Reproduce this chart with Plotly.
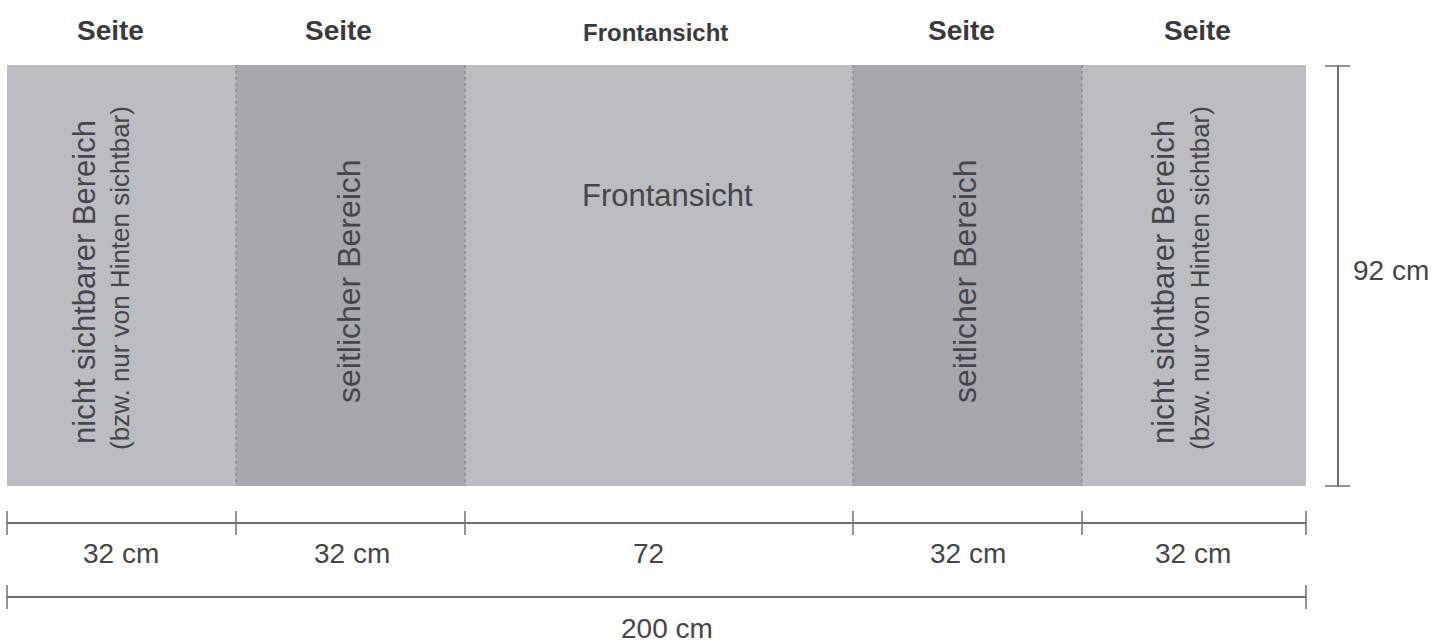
import plotly.graph_objects as go

# ---- data ----
header_labels = ["Seite", "Seite", "Frontansicht", "Seite", "Seite"]
section_main = ["nicht sichtbarer Bereich", "seitlicher Bereich", "Frontansicht",
                "seitlicher Bereich", "nicht sichtbarer Bereich"]
section_sub = ["(bzw. nur von Hinten sichtbar)", "", "", "", "(bzw. nur von Hinten sichtbar)"]
widths_cm = [32, 32, 72, 32, 32]
total_cm = 200
height_cm = 92
width_labels = ["32 cm", "32 cm", "72", "32 cm", "32 cm"]

# ---- drawing layout (diagram is not to scale) ----
W, H = 1448, 642
edges = [7, 236, 465, 853, 1082, 1306]
panel_top, panel_bottom = 65, 486
fills = ["#BCBDC1", "#A7A8AC", "#BCBDC1", "#A7A8AC", "#BCBDC1"]
FONT = "Liberation Sans, Arial, sans-serif"
TXT = "#464648"
LINE = "#707072"

fig = go.Figure()
shapes = []
annotations = []

# panels
for i in range(5):
    shapes.append(dict(type="rect", xref="x", yref="y", x0=edges[i], x1=edges[i + 1],
                       y0=panel_top, y1=panel_bottom, fillcolor=fills[i],
                       line=dict(width=0), layer="below"))
# dotted separators
for e in edges[1:-1]:
    shapes.append(dict(type="line", xref="x", yref="y", x0=e, x1=e, y0=panel_top, y1=panel_bottom,
                       line=dict(color="#7c7c80", width=1, dash="dot")))

# headers
header_x = [110, 338, 655, 961, 1197]
for lbl, hx in zip(header_labels, header_x):
    is_front = lbl == "Frontansicht"
    annotations.append(dict(x=hx, y=32 if is_front else 30, xref="x", yref="y",
                            text="<b>%s</b>" % lbl, showarrow=False,
                            font=dict(family=FONT, size=24 if is_front else 28, color="#3a3a3c"),
                            xanchor="center", yanchor="middle"))

# section texts
main_x = [84, 349, 667, 965, 1163]
sub_x = [120, None, None, None, 1200]
for i in range(5):
    if section_main[i] == "Frontansicht":
        annotations.append(dict(x=main_x[i], y=195, xref="x", yref="y", text=section_main[i],
                                showarrow=False, font=dict(family=FONT, size=31, color=TXT),
                                xanchor="center", yanchor="middle"))
    elif section_main[i] == "seitlicher Bereich":
        annotations.append(dict(x=main_x[i], y=281, xref="x", yref="y", text=section_main[i],
                                textangle=-90, showarrow=False,
                                font=dict(family=FONT, size=32, color=TXT),
                                xanchor="center", yanchor="middle"))
    else:
        annotations.append(dict(x=main_x[i], y=282, xref="x", yref="y", text=section_main[i],
                                textangle=-90, showarrow=False,
                                font=dict(family=FONT, size=31, color=TXT),
                                xanchor="center", yanchor="middle"))
    if section_sub[i]:
        annotations.append(dict(x=sub_x[i], y=278, xref="x", yref="y", text=section_sub[i],
                                textangle=-90, showarrow=False,
                                font=dict(family=FONT, size=26, color=TXT),
                                xanchor="center", yanchor="middle"))

# width dimension line
dim_y = 523
shapes.append(dict(type="line", xref="x", yref="y", x0=edges[0], x1=edges[-1], y0=dim_y, y1=dim_y,
                   line=dict(color=LINE, width=2)))
for e in edges:
    shapes.append(dict(type="line", xref="x", yref="y", x0=e, x1=e, y0=dim_y - 12, y1=dim_y + 12,
                       line=dict(color=LINE, width=1.5)))
label_x = [121, 352, 648, 968, 1193]
for lbl, lx in zip(width_labels, label_x):
    annotations.append(dict(x=lx, y=553, xref="x", yref="y", text=lbl, showarrow=False,
                            font=dict(family=FONT, size=28, color=TXT),
                            xanchor="center", yanchor="middle"))

# total width line
tot_y = 597
shapes.append(dict(type="line", xref="x", yref="y", x0=edges[0], x1=edges[-1], y0=tot_y, y1=tot_y,
                   line=dict(color=LINE, width=2)))
for e in (edges[0], edges[-1]):
    shapes.append(dict(type="line", xref="x", yref="y", x0=e, x1=e, y0=tot_y - 12, y1=tot_y + 12,
                       line=dict(color=LINE, width=1.5)))
annotations.append(dict(x=(edges[0] + edges[-1]) / 2 + 10, y=628, xref="x", yref="y",
                        text="%d cm" % total_cm, showarrow=False,
                        font=dict(family=FONT, size=28, color=TXT),
                        xanchor="center", yanchor="middle"))

# height dimension line
hx = 1338
shapes.append(dict(type="line", xref="x", yref="y", x0=hx, x1=hx, y0=panel_top + 1, y1=panel_bottom,
                   line=dict(color=LINE, width=2)))
for yy in (panel_top + 1, panel_bottom):
    shapes.append(dict(type="line", xref="x", yref="y", x0=hx - 13, x1=hx + 12, y0=yy, y1=yy,
                       line=dict(color=LINE, width=1.5)))
annotations.append(dict(x=1391, y=270, xref="x", yref="y", text="%d cm" % height_cm,
                        showarrow=False, font=dict(family=FONT, size=28, color=TXT),
                        xanchor="center", yanchor="middle"))

fig.update_layout(
    width=W, height=H, margin=dict(l=0, r=0, t=0, b=0),
    paper_bgcolor="white", plot_bgcolor="white",
    xaxis=dict(range=[0, W], visible=False, fixedrange=True),
    yaxis=dict(range=[H, 0], visible=False, fixedrange=True),
    shapes=shapes, annotations=annotations, showlegend=False,
)
fig.write_html("out.html", config={"displayModeBar": False},
               post_script="document.body.style.margin='0px';document.body.style.overflow='hidden';")
